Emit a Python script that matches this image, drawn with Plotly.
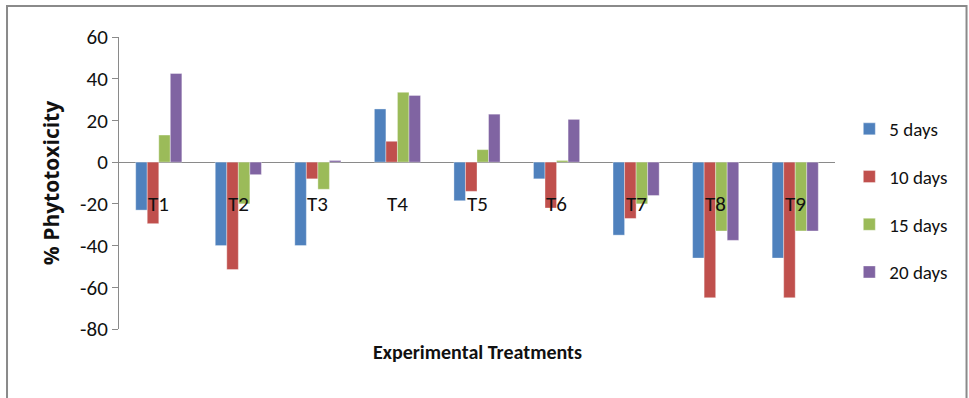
import plotly.graph_objects as go

# Phytotoxicity (%) per treatment, measured at four sampling days
treatments = ["T1", "T2", "T3", "T4", "T5", "T6", "T7", "T8", "T9"]
days_5 = [-23, -40, -40, 25.5, -18.5, -8, -35, -46, -46]
days_10 = [-29.5, -51.5, -8, 10, -14, -22, -27, -65, -65]
days_15 = [13, -20, -13, 33.5, 6, 0.8, -20, -33, -33]
days_20 = [42.5, -6, 0.8, 32, 23, 20.5, -16, -37.5, -33]
series_names = ["5 days", "10 days", "15 days", "20 days"]
series_colors = ["#4F81BD", "#C0504D", "#9BBB59", "#8064A2"]
y_ticks = [60, 40, 20, 0, -20, -40, -60, -80]

FONT = "Carlito, Liberation Sans Narrow, Roboto, sans-serif"

fig = go.Figure()
for name, vals, color in zip(series_names, [days_5, days_10, days_15, days_20], series_colors):
    fig.add_trace(go.Bar(
        x=treatments, y=vals, name=name, legendgroup=name,
        marker=dict(color=color, line=dict(color="rgba(255,255,255,0.6)", width=0.6)),
    ))

# category labels sit a little below the zero line, as in a spreadsheet chart
for t in treatments:
    fig.add_annotation(x=t, y=0, xref="x", yref="y", text=t, showarrow=False,
                       yshift=-42, font=dict(family=FONT, size=21, color="#111111"))

fig.add_annotation(x=0.5, y=-0.005, xref="paper", yref="paper", yanchor="top",
                   text="<b>Experimental Treatments</b>", showarrow=False, yshift=-8,
                   font=dict(family=FONT, size=20, color="#111111"))

# outer chart border
fig.add_shape(type="rect", xref="paper", yref="paper",
              x0=-0.1564, x1=1.1837, y0=-0.4, y1=1.106,
              line=dict(color="#8a8a8a", width=2), fillcolor="rgba(0,0,0,0)")

fig.update_layout(
    width=969, height=398,
    margin=dict(l=119, r=134, t=37, b=69, autoexpand=False),
    paper_bgcolor="white", plot_bgcolor="white",
    barmode="group", bargap=0.42, bargroupgap=0,
    font=dict(family=FONT, color="#111111"),
    showlegend=True,
    legend=dict(x=1.02, y=0.75, xanchor="left", yanchor="top",
                font=dict(family=FONT, size=19, color="#111111"),
                tracegroupgap=20, itemwidth=30, bgcolor="rgba(0,0,0,0)"),
    xaxis=dict(showticklabels=False, showline=False, showgrid=False, zeroline=False,
               range=[-0.5, 8.5]),
    yaxis=dict(range=[-80, 60], tickvals=y_ticks, ticktext=[str(v) for v in y_ticks],
               showgrid=False,
               showline=True, linecolor="#8a8a8a", linewidth=1,
               ticks="outside", ticklen=6, tickcolor="#8a8a8a",
               zeroline=True, zerolinecolor="#8a8a8a", zerolinewidth=1,
               tickfont=dict(family=FONT, size=21, color="#111111"),
               title=dict(text="<b>% Phytotoxicity</b>", standoff=14,
                          font=dict(family="Open Sans, sans-serif", size=21, color="#111111"))),
)

fig.write_html("out.html")
